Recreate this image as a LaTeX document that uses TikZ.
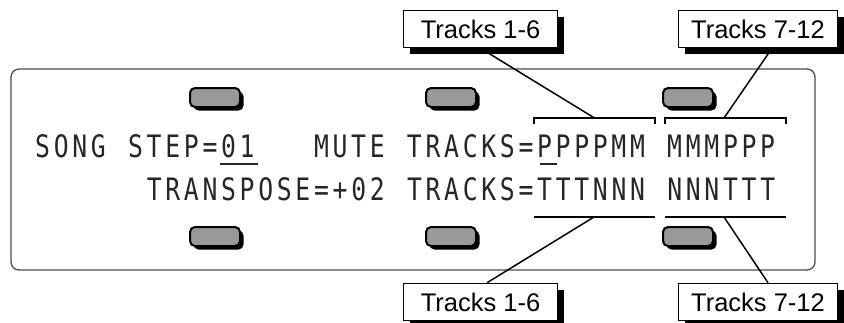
\documentclass[tikz,border=0pt]{standalone}
\usepackage{fontspec}
\setmainfont{Liberation Sans}
\newfontfamily\lcdfont[FakeStretch=0.8,LetterSpace=12]{DejaVu Sans Mono}
\newcommand\lcdws{\hspace*{22.3pt}}
\newcommand\lcdsp{\hspace*{18.59pt}}
\usetikzlibrary{shadows}
\begin{document}
\begin{tikzpicture}[x=1pt,y=-1pt,
  lbl/.style={draw=black,line width=1.5pt,fill=white,minimum width=154pt,minimum height=37pt,inner sep=0pt,
    font=\fontsize{25.5}{30}\selectfont,
    drop shadow={shadow xshift=6pt,shadow yshift=-6pt,opacity=1,fill=black}},
  btn/.style={draw=black,line width=2pt,fill=black!40,rounded corners=5pt,minimum width=50pt,minimum height=19pt,inner sep=0pt,
    drop shadow={shadow xshift=3.5pt,shadow yshift=-3.5pt,opacity=1,fill=black}},
  panel/.style={draw=black!70,line width=1.3pt,rounded corners=8pt,minimum width=804pt,minimum height=201pt,inner sep=0pt},
  lcd/.style={font=\lcdfont\fontsize{30.9}{31}\selectfont,text=black!85,inner sep=0pt,anchor=base west},
  lead/.style={line width=1.5pt},
  brk/.style={line width=1.3pt},
  cursor/.style={line width=2pt,black!85}]
\useasboundingbox (0,0) rectangle (844,322);
% panel
\node[panel] (panel) at (413,169.5) {};
% buttons
\node[btn] (bt1) at (215,97.5) {};
\node[btn] (bt2) at (451,97.5) {};
\node[btn] (bt3) at (688,97.5) {};
\node[btn] (bb1) at (215,236.5) {};
\node[btn] (bb2) at (451,236.5) {};
\node[btn] (bb3) at (688,236.5) {};
% LCD text
\node[lcd] (row1) at (35,157) {SONG\lcdws STEP=01\lcdws\lcdsp\lcdsp MUTE\lcdws TRACKS=PPPPMM\lcdws MMMPPP};
\node[lcd] (row2) at (146.6,200) {TRANSPOSE=+02\lcdws TRACKS=TTTNNN\lcdws NNNTTT};
\draw[cursor] (220,163.5) -- (258,163.5);
\draw[cursor] (540,163.5) -- (557,163.5);
% brackets
\draw[brk] (534,124) -- (534,118) -- (655,118) -- (655,124);
\draw[brk] (665,124) -- (665,118) -- (786,118) -- (786,124);
\draw[brk] (534,217) -- (655,217);
\draw[brk] (665,217) -- (786,217);
\coordinate (b1t) at (594.5,118);
\coordinate (b2t) at (724,118);
\coordinate (b1b) at (594,217);
\coordinate (b2b) at (724,217);
% labels
\node[lbl] (t1) at (480.5,29) {Tracks 1-6};
\node[lbl,minimum width=159pt] (t2) at (758,29) {Tracks 7-12};
\node[lbl] (l1) at (480.5,302) {Tracks 1-6};
\node[lbl,minimum width=159pt] (l2) at (758,302) {Tracks 7-12};
% leaders
\draw[lead] (t1.south) -- (b1t);
\draw[lead] ([xshift=14pt]t2.south) -- (b2t);
\draw[lead] (b1b) -- ([xshift=6.5pt]l1.north);
\draw[lead] (b2b) -- ([xshift=10pt]l2.north);
\end{tikzpicture}
\end{document}
